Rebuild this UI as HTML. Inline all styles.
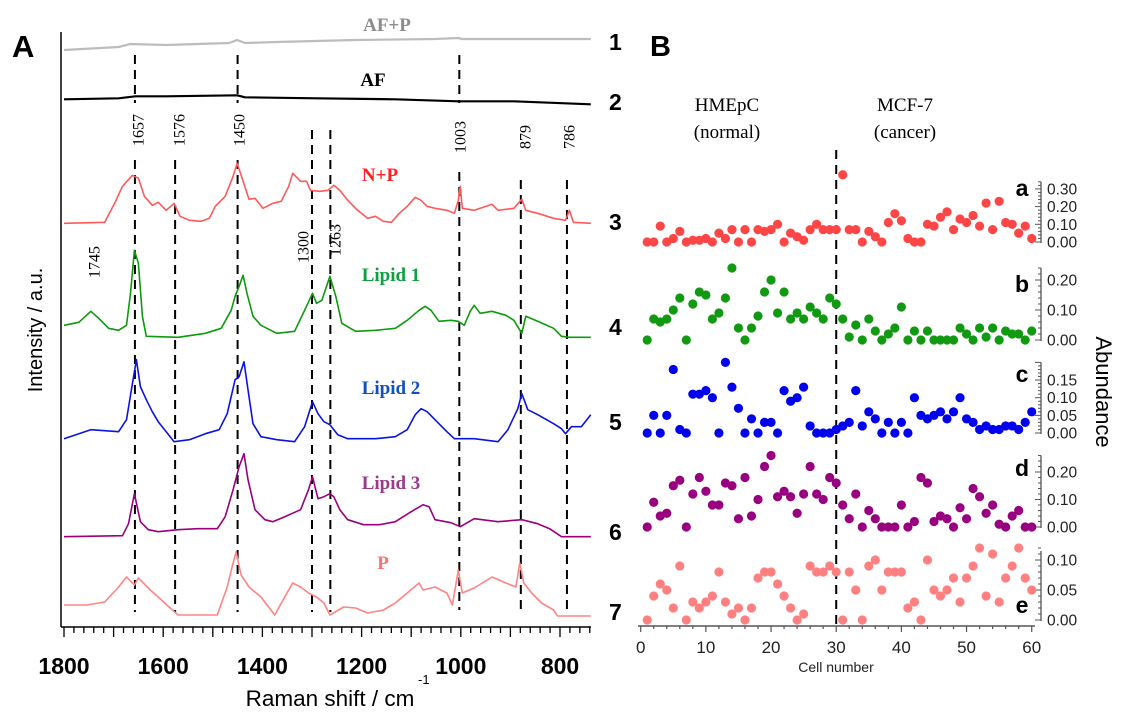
<!DOCTYPE html>
<html><head><meta charset="utf-8"><style>
body{margin:0;background:#fff;}
svg{display:block;font-family:"Liberation Sans",sans-serif;}
.ser{font-family:"Liberation Serif",serif;}
</style></head><body>
<svg id="fig" width="1125" height="718" viewBox="0 0 1125 718">
<g id="gA"></g>
<g id="gB"></g>
</svg>
<script>
// ---------- Panel A data (wavenumber cm-1, intensity a.u.) ----------
const afpWn=[1800,1690,1666,1594,1467,1451,1435,1371,1212,1052,1005,997,738];
const afpVal=[0,3,6,5,7,10,7,8,10,11,12,11,11];
const afWn=[1800,1690,1656,1594,1451,1435,1291,1132,1005,893,738];
const afVal=[0,1,3,3,4,2,1,0,-2,-2,-5];
const npWn=[1800,1718,1698,1682,1662,1650,1638,1622,1610,1594,1578,1566,1547,1523,1507,1495,1475,1459,1451,1439,1427,1415,1399,1379,1362,1347,1339,1323,1311,1303,1284,1268,1256,1244,1228,1208,1188,1172,1156,1140,1124,1108,1092,1080,1068,1052,1028,1013,1005,1001,997,973,937,925,893,877,869,845,813,789,781,773,738];
const npVal=[0,1,20,37,48,45,27,18,21,13,20,7,3,2,5,17,27,47,60,42,24,25,15,20,22,37,50,42,42,33,32,33,38,33,23,13,5,7,2,1,10,17,26,23,17,15,13,10,23,37,15,13,19,13,15,24,13,10,5,3,13,1,0];
const l1Wn=[1800,1770,1746,1730,1710,1690,1674,1666,1658,1650,1642,1634,1570,1515,1483,1463,1455,1447,1439,1431,1419,1403,1371,1335,1311,1299,1291,1280,1264,1252,1240,1212,1172,1132,1108,1084,1072,1060,1044,1020,1005,993,981,973,961,937,909,893,877,869,845,813,797,781,738];
const l1Val=[12,15,26,19,9,7,12,44,87,74,21,1,0,4,9,27,41,51,62,44,21,12,4,6,31,44,34,37,61,41,14,6,7,9,17,27,31,27,16,17,16,12,26,32,24,26,22,17,4,21,16,9,1,0,0];
const l2Wn=[1800,1746,1690,1674,1662,1654,1646,1634,1622,1610,1594,1578,1547,1515,1487,1471,1455,1447,1437,1429,1419,1403,1371,1335,1315,1299,1288,1276,1264,1248,1228,1172,1132,1108,1092,1080,1068,1052,1028,1013,973,925,905,885,877,865,845,813,797,789,777,757,738];
const l2Val=[3,12,10,22,58,82,55,42,30,20,10,0,2,8,12,28,62,65,80,52,18,5,2,0,15,40,28,20,17,7,3,3,5,12,27,33,30,22,10,3,3,0,12,33,48,32,27,18,13,8,15,15,27];
const l3Wn=[1800,1682,1670,1658,1646,1630,1610,1570,1531,1491,1475,1459,1447,1437,1429,1415,1395,1379,1355,1323,1307,1299,1288,1276,1264,1256,1244,1228,1196,1164,1132,1100,1076,1064,1052,1020,1001,973,925,877,845,821,797,738];
const l3Val=[0,1,13,43,15,7,5,7,8,8,20,47,70,83,57,27,17,15,20,27,47,60,38,40,43,40,27,17,12,12,15,25,32,30,17,14,10,18,15,17,13,8,0,0];
const pWn=[1800,1754,1718,1690,1674,1658,1650,1626,1610,1586,1570,1491,1471,1459,1453,1443,1427,1403,1375,1355,1339,1323,1307,1291,1276,1264,1236,1212,1188,1156,1132,1108,1084,1076,1052,1028,1017,1005,997,973,937,909,889,881,873,857,837,813,805,738];
const pVal=[11,11,14,29,39,31,38,26,19,8,1,1,29,53,64,41,29,19,1,19,33,29,23,19,13,1,9,8,3,6,13,23,33,26,29,23,11,46,23,28,39,33,29,53,33,23,13,6,0,0];
const peakLabels=["1657","1576","1450","1300","1263","1003","879","786","1745"];
const axisTicksA=[1800,1600,1400,1200,1000,800];

// ---------- Panel B data (abundance per cell 1..60) ----------
const cells=Array.from({length:60},(_,i)=>i+1);
const abundA=[0,0,0.09,0,0.02,0.06,0,0.01,0.01,0.02,0,0.05,0.02,0.07,0,0.07,0,0.07,0.06,0.07,0.1,0,0.05,0.03,0.01,0.07,0.1,0.07,0.07,0.07,0.38,0.07,0.07,0,0.06,0.03,0,0.11,0.16,0.12,0.02,0,0,0.1,0.09,0.14,0.17,0.07,0.13,0.11,0.15,0.09,0.22,0.07,0.23,0.11,0.1,0.05,0.09,0.02];
const abundB=[0,0.07,0.06,0.07,0.1,0.14,0,0.12,0.16,0.15,0.07,0.09,0.14,0.24,0.04,0,0.04,0.08,0.16,0.2,0.09,0.16,0.07,0.09,0.07,0.11,0.09,0.07,0.14,0.12,0.07,0.01,0.05,0,0.07,0.03,0,0.02,0.04,0.11,0,0.03,0,0.03,0,0,0,0,0.04,0.02,0,0.04,0.01,0.04,0,0.03,0.02,0.02,0,0.03];
const abundC=[0,0.05,0,0.05,0.18,0.01,0,0.11,0.11,0.12,0.1,0,0.2,0.13,0.07,0,0.04,0,0.03,0.03,0,0.12,0.09,0.1,0.13,0.02,0,0,0,0.01,0.02,0.03,0.12,0.02,0.06,0.04,0,0.03,0,0.03,0,0.1,0.05,0.04,0.05,0.06,0.04,0.06,0.1,0.04,0.03,0.01,0.02,0.01,0.01,0.02,0.02,0.01,0.03,0.06];
const abundD=[0,0.09,0.04,0.05,0.15,0.17,0,0.12,0.18,0.13,0.08,0.08,0.16,0.15,0.03,0.18,0.04,0.1,0.22,0.26,0.11,0.13,0.11,0.05,0.12,0.22,0.12,0.1,0.18,0.16,0.08,0.03,0.12,0,0.06,0.03,0,0,0,0.08,0,0.02,0.18,0.16,0.02,0.04,0.03,0,0.07,0.03,0.14,0.11,0.05,0.08,0.01,0,0.04,0.06,0,0];
const abundE=[0,0.04,0.06,0.05,0.02,0.09,0,0.03,0.02,0.03,0.04,0.08,0.03,0.01,0.02,0,0.02,0.07,0.08,0.08,0.06,0.04,0.02,0,0.01,0.09,0.08,0.08,0.09,0.08,0,0.08,0.05,0,0.09,0.1,0.05,0.08,0.08,0.08,0.02,0.03,0,0.1,0.05,0.04,0.05,0.07,0.03,0.07,0.09,0.12,0.04,0.11,0.03,0.07,0.09,0.12,0.07,0.05];
const cellTicks=[0,10,20,30,40,50,60];

const NS="http://www.w3.org/2000/svg";
function mk(parent,tag,attrs,text){const e=document.createElementNS(NS,tag);for(const k in attrs)e.setAttribute(k,attrs[k]);if(text!==undefined)e.textContent=text;parent.appendChild(e);return e;}
const gA=document.getElementById('gA'), gB=document.getElementById('gB');

// ---------- Panel A ----------
const xA=w=>64+(1800-w)*0.496;
let e;
e=mk(gA,'line',{x1:61,y1:32,x2:61,y2:627,stroke:'#000','stroke-width':1.5});


e=mk(gA,'line',{x1:61,y1:627,x2:591,y2:627,stroke:'#000','stroke-width':1.5});


for(let w=1800;w>=740;w-=20){
  const maj=(w%100===0);
  e=mk(gA,'line',{x1:xA(w),y1:627,x2:xA(w),y2:627+(maj?10:6),stroke:'#000','stroke-width':1.3});
  
  
}
axisTicksA.forEach(w=>{
  e=mk(gA,'text',{x:xA(w),y:674,'text-anchor':'middle','font-size':23,'font-weight':'bold'},String(w));
  
  
});
e=mk(gA,'text',{x:330,y:706,'text-anchor':'middle','font-size':22.5},'Raman shift / cm');


e=mk(gA,'text',{x:418,y:684,'font-size':13},'-1');


e=mk(gA,'text',{transform:'translate(42,330) rotate(-90)','text-anchor':'middle','font-size':20},'Intensity / a.u.');


e=mk(gA,'text',{x:12,y:57,'font-size':31,'font-weight':'bold'},'A');



// dashed marker lines
const dashSegs=[[1657,[[55,103],[160,612]]],[1576,[[160,612]]],[1450,[[55,103],[160,612]]],[1300,[[130,612]]],[1263,[[130,612]]],[1003,[[55,103],[172,610]]],[879,[[180,612]]],[786,[[180,612]]]];
dashSegs.forEach(([w,segs])=>segs.forEach(s=>{
  e=mk(gA,'line',{x1:xA(w),y1:s[0],x2:xA(w),y2:s[1],stroke:'#000','stroke-width':2,'stroke-dasharray':'9,6'});
  
  
}));
const labelPos=[[139,130],[180,130],[240,130],[304,247],[336,240],[461,137],[526,137],[570,137],[95,262]];
peakLabels.forEach((t,i)=>{
  e=mk(gA,'text',{class:'ser',transform:`translate(${labelPos[i][0]},${labelPos[i][1]}) rotate(-90)`,'text-anchor':'middle','dominant-baseline':'central','font-size':16},t);
  
  
});

const series=[
 ['afp',afpWn,afpVal,50,'#bdbdbd','AF+P','#8c8c8c',387,31,'1',42],
 ['af',afWn,afVal,99.3,'#000','AF','#000',373,86,'2',102],
 ['np',npWn,npVal,223.3,'#ff5a5a','N+P','#ff2020',380,181,'3',222],
 ['lipid1',l1Wn,l1Val,337.3,'#0d9a0d','Lipid 1','#10a040',391,281,'4',327],
 ['lipid2',l2Wn,l2Val,441.7,'#0a14e0','Lipid 2','#1050c0',391,394,'5',422],
 ['lipid3',l3Wn,l3Val,536.7,'#99007f','Lipid 3','#9a3a8a',391,489,'6',532],
 ['p',pWn,pVal,616,'#ff8585','P','#ff7070',383,569,'7',612]
];
series.forEach(([id,wn,val,base,col,lab,lcol,lx,ly,num,ny])=>{
  const d=wn.map((w,i)=>(i?'L':'M')+xA(w).toFixed(1)+','+(base-val[i]).toFixed(1)).join('');
  e=mk(gA,'path',{d:d,fill:'none',stroke:col,'stroke-width':id==='afp'||id==='af'?2.2:1.6,'stroke-linejoin':'round'});
  
  
  e=mk(gA,'text',{class:'ser',x:lx,y:ly,'text-anchor':'middle','font-size':19,'font-weight':'bold',fill:lcol},lab);
  
  
  e=mk(gA,'text',{x:609,y:ny+8,'font-size':23,'font-weight':'bold'},num);
  
  
});

// ---------- Panel B ----------
const xB=c=>640.7+c*6.517;
e=mk(gB,'line',{x1:638,y1:626,x2:1035,y2:626,stroke:'#555','stroke-width':1.5});


for(let c=0;c<=60;c+=2){
  e=mk(gB,'line',{x1:xB(c),y1:626,x2:xB(c),y2:626+(c%10===0?6:3),stroke:'#555','stroke-width':1.2});
  
  
}
cellTicks.forEach(c=>{
  e=mk(gB,'text',{x:xB(c),y:653,'text-anchor':'middle','font-size':17,fill:'#222'},String(c));
  
  
});
e=mk(gB,'text',{x:836,y:672,'text-anchor':'middle','font-size':14,fill:'#222'},'Cell number');


e=mk(gB,'line',{x1:xB(30),y1:150,x2:xB(30),y2:626,stroke:'#000','stroke-width':2,'stroke-dasharray':'9,6'});


e=mk(gB,'text',{x:650,y:56,'font-size':29,'font-weight':'bold'},'B');


[['HMEpC',727,111],['(normal)',727,138],['MCF-7',905,111],['(cancer)',905,138]].forEach(([t,x,y])=>{
  e=mk(gB,'text',{class:'ser',x:x,y:y,'text-anchor':'middle','font-size':19},t);
  
  
});
e=mk(gB,'text',{transform:'translate(1096,392) rotate(90)','text-anchor':'middle','font-size':22},'Abundance');



const panels=[
 ['a',abundA,242,177,0.34,0.1,0.02,'#ff4646',[0,0.1,0.2,0.3],188],
 ['b',abundB,340,300,0.24,0.1,0.02,'#119a11',[0,0.1,0.2],284],
 ['c',abundC,433,353,0.2,0.05,0.01,'#0000ee',[0,0.05,0.1,0.15],374],
 ['d',abundD,527,275,0.26,0.1,0.02,'#990080',[0,0.1,0.2],468],
 ['e',abundE,620,600,0.115,0.05,0.01,'#ff8080',[0,0.05,0.1],605]
];
panels.forEach(([id,vals,y0,k,top,maj,mn,col,labs,ly])=>{
  const yv=v=>y0-v*k;
  e=mk(gB,'line',{x1:1041,y1:yv(top),x2:1041,y2:y0+1,stroke:'#555','stroke-width':1.3});
  
  
  const n=Math.round(top/mn);
  for(let i=0;i<=n;i++){
    const v=i*mn, isMaj=Math.abs(v/maj-Math.round(v/maj))<1e-6;
    e=mk(gB,'line',{x1:1041-(isMaj?6:3),y1:yv(v),x2:1041,y2:yv(v),stroke:'#555','stroke-width':1});
    
    
  }
  labs.forEach(v=>{
    e=mk(gB,'text',{x:1047,y:yv(v)+5.5,'font-size':15.5,fill:'#222'},v.toFixed(2));
    
    
  });
  e=mk(gB,'text',{x:1022,y:ly+8,'text-anchor':'middle','font-size':23,'font-weight':'bold'},id);
  
  
  vals.forEach((v,i)=>{
    e=mk(gB,'circle',{cx:xB(cells[i]),cy:yv(v),r:4.6,fill:col});
    
    
  });
});
</script>
</body></html>
